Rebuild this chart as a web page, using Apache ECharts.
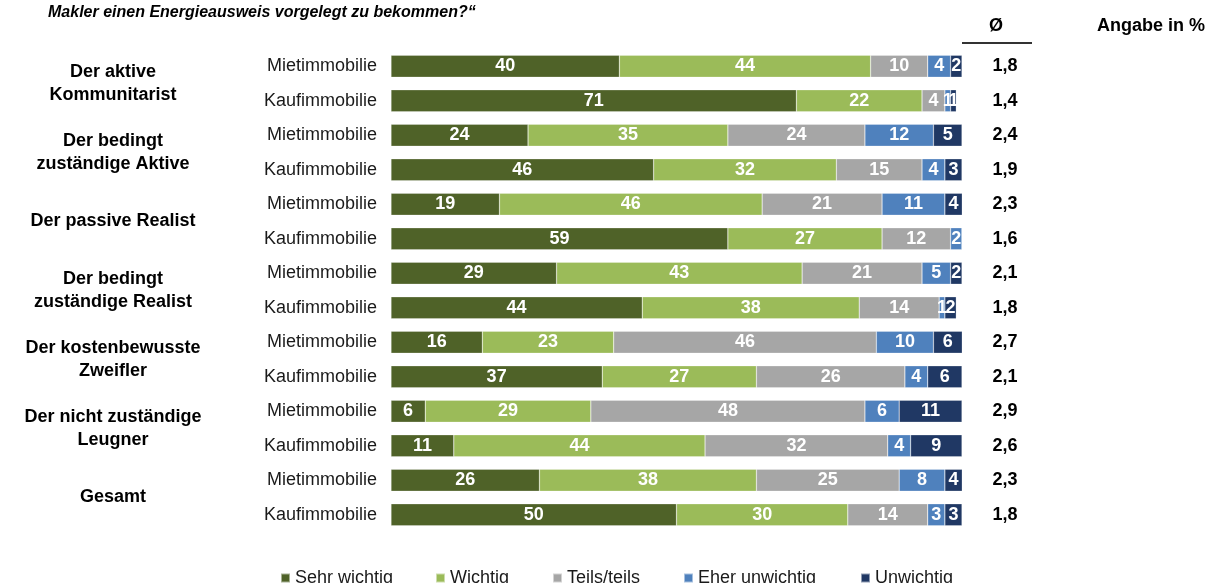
<!DOCTYPE html>
<html>
<head>
<meta charset="utf-8">
<script src="https://cdn.jsdelivr.net/npm/echarts@6/dist/echarts.min.js"></script>
<style>
html, body { margin: 0; padding: 0; background: #fff; }
#chart { width: 1215px; height: 583px; }
</style>
</head>
<body>
<div id="chart"></div>
<script>
// Zeilen (oben nach unten)
const rows = ['Mietimmobilie', 'Kaufimmobilie', 'Mietimmobilie', 'Kaufimmobilie', 'Mietimmobilie', 'Kaufimmobilie', 'Mietimmobilie',
    'Kaufimmobilie', 'Mietimmobilie', 'Kaufimmobilie', 'Mietimmobilie', 'Kaufimmobilie', 'Mietimmobilie', 'Kaufimmobilie']
const groups = ['Der aktive\nKommunitarist', 'Der bedingt\nzuständige Aktive', 'Der passive Realist', 'Der bedingt\nzuständige Realist',
    'Der kostenbewusste\nZweifler', 'Der nicht zuständige\nLeugner', 'Gesamt']
const seriesNames = ['Sehr wichtig', 'Wichtig', 'Teils/teils', 'Eher unwichtig', 'Unwichtig']

const sehrWichtig = [40, 71, 24, 46, 19, 59, 29, 44, 16, 37, 6, 11, 26, 50]
const wichtig = [44, 22, 35, 32, 46, 27, 43, 38, 23, 27, 29, 44, 38, 30]
const teilsTeils = [10, 4, 24, 15, 21, 12, 21, 14, 46, 26, 48, 32, 25, 14]
const eherUnwichtig = [4, 1, 12, 4, 11, 2, 5, 1, 10, 4, 6, 4, 8, 3]
const unwichtig = [2, 1, 5, 3, 4, 0, 2, 2, 6, 6, 11, 9, 4, 3]
const durchschnitt = ['1,8', '1,4', '2,4', '1,9', '2,3', '1,6', '2,1', '1,8', '2,7', '2,1', '2,9', '2,6', '2,3', '1,8']

const colors = ['#4f6228', '#9bbb59', '#a6a6a6', '#4f81bd', '#203864']
const values = [sehrWichtig, wichtig, teilsTeils, eherUnwichtig, unwichtig]
const legendLeft = [280, 435, 552, 683, 860]

const FONT = '"Liberation Sans", Arial, sans-serif'

const chart = echarts.init(document.getElementById('chart'))

const option = {
    animation: false,
    textStyle: { fontFamily: FONT },
    grid: { left: 391, right: 253, top: 49, bottom: 51, containLabel: false, outerBoundsMode: 'none' },
    xAxis: { type: 'value', min: 0, max: 100, show: false },
    yAxis: [
        {
            type: 'category',
            data: rows,
            inverse: true,
            position: 'left',
            axisLine: { show: false },
            axisTick: { show: false },
            axisLabel: { margin: 14, fontSize: 18, color: '#1a1a1a', fontFamily: FONT }
        },
        {
            type: 'category',
            data: groups,
            inverse: true,
            position: 'left',
            axisLine: { show: false },
            axisTick: { show: false },
            axisLabel: {
                margin: 278, align: 'center', fontSize: 18, fontWeight: 'bold',
                color: '#000', lineHeight: 23, padding: [3, 0, 0, 0], fontFamily: FONT
            }
        },
        {
            type: 'category',
            data: durchschnitt,
            inverse: true,
            position: 'right',
            axisLine: { show: false },
            axisTick: { show: false },
            axisLabel: { margin: 43, align: 'center', fontSize: 18, fontWeight: 'bold', color: '#000', fontFamily: FONT }
        }
    ],
    legend: seriesNames.map((name, i) => ({
        data: [name],
        left: legendLeft[i],
        top: 569,
        padding: 0,
        itemWidth: 9,
        itemHeight: 9,
        icon: 'rect',
        textStyle: { fontSize: 18, color: '#1a1a1a', fontFamily: FONT }
    })),
    graphic: [
        {
            type: 'text', left: 48, top: 5,
            style: {
                text: 'Makler einen Energieausweis vorgelegt zu bekommen?“',
                font: 'italic bold 16px ' + FONT, fill: '#000'
            }
        },
        {
            type: 'text', left: 989, top: 17,
            style: { text: 'Ø', font: 'bold 18px ' + FONT, fill: '#000' }
        },
        {
            type: 'text', left: 1097, top: 17,
            style: { text: 'Angabe in %', font: 'bold 18px ' + FONT, fill: '#000' }
        },
        {
            type: 'line',
            shape: { x1: 962, y1: 43, x2: 1032, y2: 43 },
            style: { stroke: '#333', lineWidth: 2 }
        }
    ],
    series: seriesNames.map((name, i) => ({
        name: name,
        type: 'bar',
        stack: 'total',
        yAxisIndex: 0,
        barWidth: 22,
        data: values[i],
        itemStyle: { color: colors[i], borderColor: 'rgba(255,255,255,0.5)', borderWidth: 0.5 },
        label: {
            show: true,
            position: 'inside',
            color: '#fff',
            fontSize: 18,
            fontWeight: 'bold',
            fontFamily: FONT,
            formatter: p => (p.value > 0 ? p.value : '')
        }
    }))
}

chart.setOption(option)
</script>
</body>
</html>
